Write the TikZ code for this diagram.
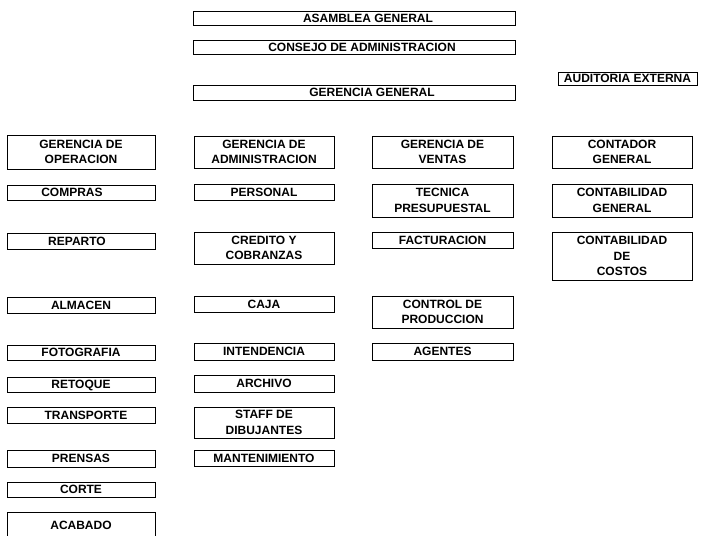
\documentclass[tikz,border=0pt]{standalone}
\usepackage{fontspec}
\setmainfont{Liberation Sans}
\begin{document}
\begin{tikzpicture}[x=1pt,y=-1pt,
  box/.style={draw=black, line width=0.65pt, inner sep=0pt, align=center,
    font=\bfseries\fontsize{12}{15.5}\selectfont, text=black},
  one/.style={text height=8.6pt, text depth=0pt},
  wtop/.style={box, one, minimum width=322pt},
  wc1/.style={box, minimum width=148pt},
  wc2/.style={box, minimum width=140pt},
  wc3/.style={box, minimum width=141pt},
  wc4/.style={box, minimum width=140pt}]
\useasboundingbox (0,0) rectangle (703,535);
% top
\node[wtop, minimum height=14pt] (asamblea) at (354,18) {\hspace*{28pt}ASAMBLEA GENERAL};
\node[wtop, minimum height=14pt] (consejo) at (354,47) {\hspace*{16pt}CONSEJO DE ADMINISTRACION};
\node[wtop, minimum height=15pt] (ggeneral) at (354,92.5) {\hspace*{36pt}GERENCIA GENERAL};
\node[box, one, minimum width=139pt, minimum height=13pt] (auditoria) at (627.5,78.5) {AUDITORIA EXTERNA};
% column 1
\node[wc1, minimum height=34pt] (gop) at (81,152) {GERENCIA DE\\OPERACION};
\node[wc1, one, minimum height=15pt] (compras) at (81,192.5) {COMPRAS\hspace*{18pt}};
\node[wc1, one, minimum height=16pt] (reparto) at (81,241) {REPARTO\hspace*{8pt}};
\node[wc1, one, minimum height=16pt] (almacen) at (81,305) {ALMACEN};
\node[wc1, one, minimum height=15pt] (fotografia) at (81,352.5) {FOTOGRAFIA};
\node[wc1, one, minimum height=15pt] (retoque) at (81,384.5) {RETOQUE};
\node[wc1, one, minimum height=16pt] (transporte) at (81,415) {\hspace*{10pt}TRANSPORTE};
\node[wc1, one, minimum height=17pt] (prensas) at (81,458.5) {PRENSAS};
\node[wc1, one, minimum height=15pt] (corte) at (81,489.5) {CORTE};
\node[wc1, one, minimum height=26pt] (acabado) at (81,525) {ACABADO};
% column 2
\node[wc2, minimum height=32pt] (gadm) at (264,152) {GERENCIA DE\\ADMINISTRACION};
\node[wc2, one, minimum height=16pt] (personal) at (264,192) {PERSONAL};
\node[wc2, minimum height=32pt] (credito) at (264,248) {CREDITO Y\\COBRANZAS};
\node[wc2, one, minimum height=16pt] (caja) at (264,304) {CAJA};
\node[wc2, one, minimum height=17pt] (intendencia) at (264,351.5) {INTENDENCIA};
\node[wc2, one, minimum height=17pt] (archivo) at (264,383.5) {ARCHIVO};
\node[wc2, minimum height=31pt] (staff) at (264,422.5) {STAFF DE\\DIBUJANTES};
\node[wc2, one, minimum height=16pt] (mantenimiento) at (264,458) {MANTENIMIENTO};
% column 3
\node[wc3, minimum height=32pt] (gventas) at (442.5,152) {GERENCIA DE\\VENTAS};
\node[wc3, minimum height=33pt] (tecnica) at (442.5,200.5) {TECNICA\\PRESUPUESTAL};
\node[wc3, one, minimum height=16pt] (facturacion) at (442.5,240) {FACTURACION};
\node[wc3, minimum height=32pt] (control) at (442.5,312) {CONTROL DE\\PRODUCCION};
\node[wc3, one, minimum height=17pt] (agentes) at (442.5,351.5) {AGENTES};
% column 4
\node[wc4, minimum height=32pt] (contador) at (622,152) {CONTADOR\\GENERAL};
\node[wc4, minimum height=33pt] (contgeneral) at (622,200.5) {CONTABILIDAD\\GENERAL};
\node[wc4, minimum height=48pt] (costos) at (622,256) {CONTABILIDAD\\DE\\COSTOS};
\end{tikzpicture}
\end{document}
